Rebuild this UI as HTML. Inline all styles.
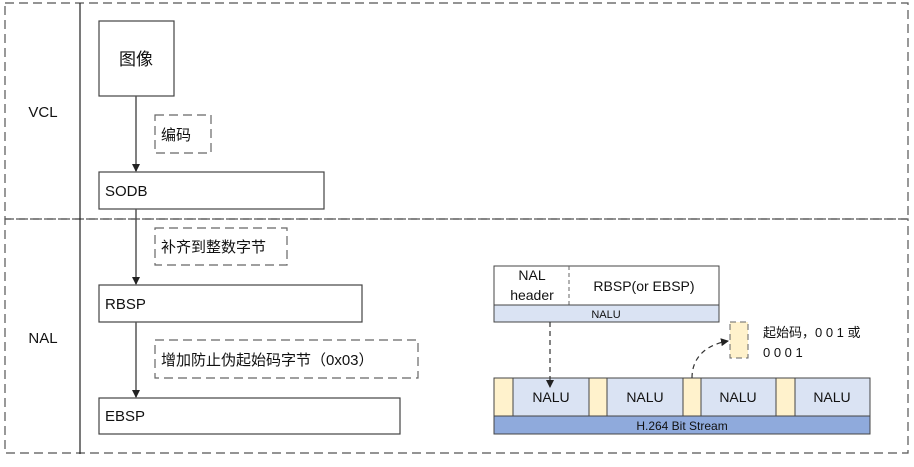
<!DOCTYPE html>
<html><head><meta charset="utf-8"><style>
body{margin:0;background:#fff}
svg text{font-family:"Liberation Sans","Noto Sans CJK SC",sans-serif;fill:#111}
</style></head><body>
<svg width="914" height="462" viewBox="0 0 914 462" xmlns="http://www.w3.org/2000/svg">
<defs><marker id="a" markerWidth="8" markerHeight="8" refX="7" refY="4" orient="auto" markerUnits="userSpaceOnUse"><path d="M0,0L8,4L0,8z" fill="#222"/></marker></defs>
<g fill="none" stroke="#555" stroke-width="1.2" stroke-dasharray="9,5">
<rect x="5" y="3" width="903" height="216"/>
<rect x="5" y="219" width="903" height="234"/>
</g>
<line x1="80" y1="3" x2="80" y2="454" stroke="#222" stroke-width="1.2"/>
<text x="43" y="117" font-size="15" text-anchor="middle">VCL</text>
<text x="43" y="343" font-size="15" text-anchor="middle">NAL</text>
<g fill="#fff" stroke="#444" stroke-width="1.2">
<rect x="99" y="21" width="75" height="75"/>
<rect x="99" y="172" width="225" height="37"/>
<rect x="99" y="285" width="263" height="37"/>
<rect x="99" y="398" width="301" height="36"/>
</g>
<g stroke="#555" stroke-width="1.5">
<line x1="136" y1="96" x2="136" y2="171" marker-end="url(#a)"/>
<line x1="136" y1="209" x2="136" y2="284" marker-end="url(#a)"/>
<line x1="136" y1="322" x2="136" y2="397" marker-end="url(#a)"/>
</g>
<g fill="#fff" stroke="#666" stroke-width="1.2" stroke-dasharray="9,5">
<rect x="155" y="115" width="56" height="38"/>
<rect x="155" y="228" width="132" height="37"/>
<rect x="155" y="340" width="263" height="38"/>
</g>
<g font-size="15">
<text x="136" y="65" text-anchor="middle" font-size="17">图像</text>
<text x="161" y="140">编码</text>
<text x="105" y="196">SODB</text>
<text x="161" y="252">补齐到整数字节</text>
<text x="105" y="309">RBSP</text>
<text x="161" y="365">增加防止伪起始码字节（0x03）</text>
<text x="105" y="421">EBSP</text>
</g>
<rect x="494" y="266" width="225" height="39" fill="#fff" stroke="#444"/>
<line x1="569" y1="266" x2="569" y2="305" stroke="#666" stroke-dasharray="4,3"/>
<rect x="494" y="305" width="225" height="17" fill="#dae3f3" stroke="#444"/>
<text x="532" y="280" font-size="14" text-anchor="middle">NAL</text>
<text x="532" y="300" font-size="14" text-anchor="middle">header</text>
<text x="644" y="291" font-size="14" text-anchor="middle">RBSP(or EBSP)</text>
<text x="606" y="318" font-size="11" text-anchor="middle">NALU</text>
<g stroke="#444" stroke-width="1">
<rect x="494" y="378" width="19" height="38" fill="#fff2cc"/>
<rect x="513" y="378" width="76" height="38" fill="#dae3f3"/>
<rect x="589" y="378" width="18" height="38" fill="#fff2cc"/>
<rect x="607" y="378" width="76" height="38" fill="#dae3f3"/>
<rect x="683" y="378" width="18" height="38" fill="#fff2cc"/>
<rect x="701" y="378" width="75" height="38" fill="#dae3f3"/>
<rect x="776" y="378" width="19" height="38" fill="#fff2cc"/>
<rect x="795" y="378" width="75" height="38" fill="#dae3f3"/>
<rect x="494" y="416" width="376" height="18" fill="#8faadc"/>
</g>
<g font-size="14" text-anchor="middle">
<text x="551" y="402">NALU</text><text x="645" y="402">NALU</text>
<text x="738" y="402">NALU</text><text x="832" y="402">NALU</text>
</g>
<text x="682" y="430" font-size="12" text-anchor="middle">H.264 Bit Stream</text>
<rect x="730" y="322" width="18" height="36" fill="#fff2cc" stroke="#666" stroke-dasharray="6,4"/>
<text x="763" y="337" font-size="13">起始码，0 0 1 或</text>
<text x="763" y="357" font-size="13">0 0 0 1</text>
<g stroke="#333" stroke-width="1.2" fill="none" stroke-dasharray="5,4">
<line x1="550" y1="322" x2="550" y2="387" marker-end="url(#a)"/>
<path d="M692,378 C692,358 705,345 728,341" marker-end="url(#a)"/>
</g>
</svg>
</body></html>
